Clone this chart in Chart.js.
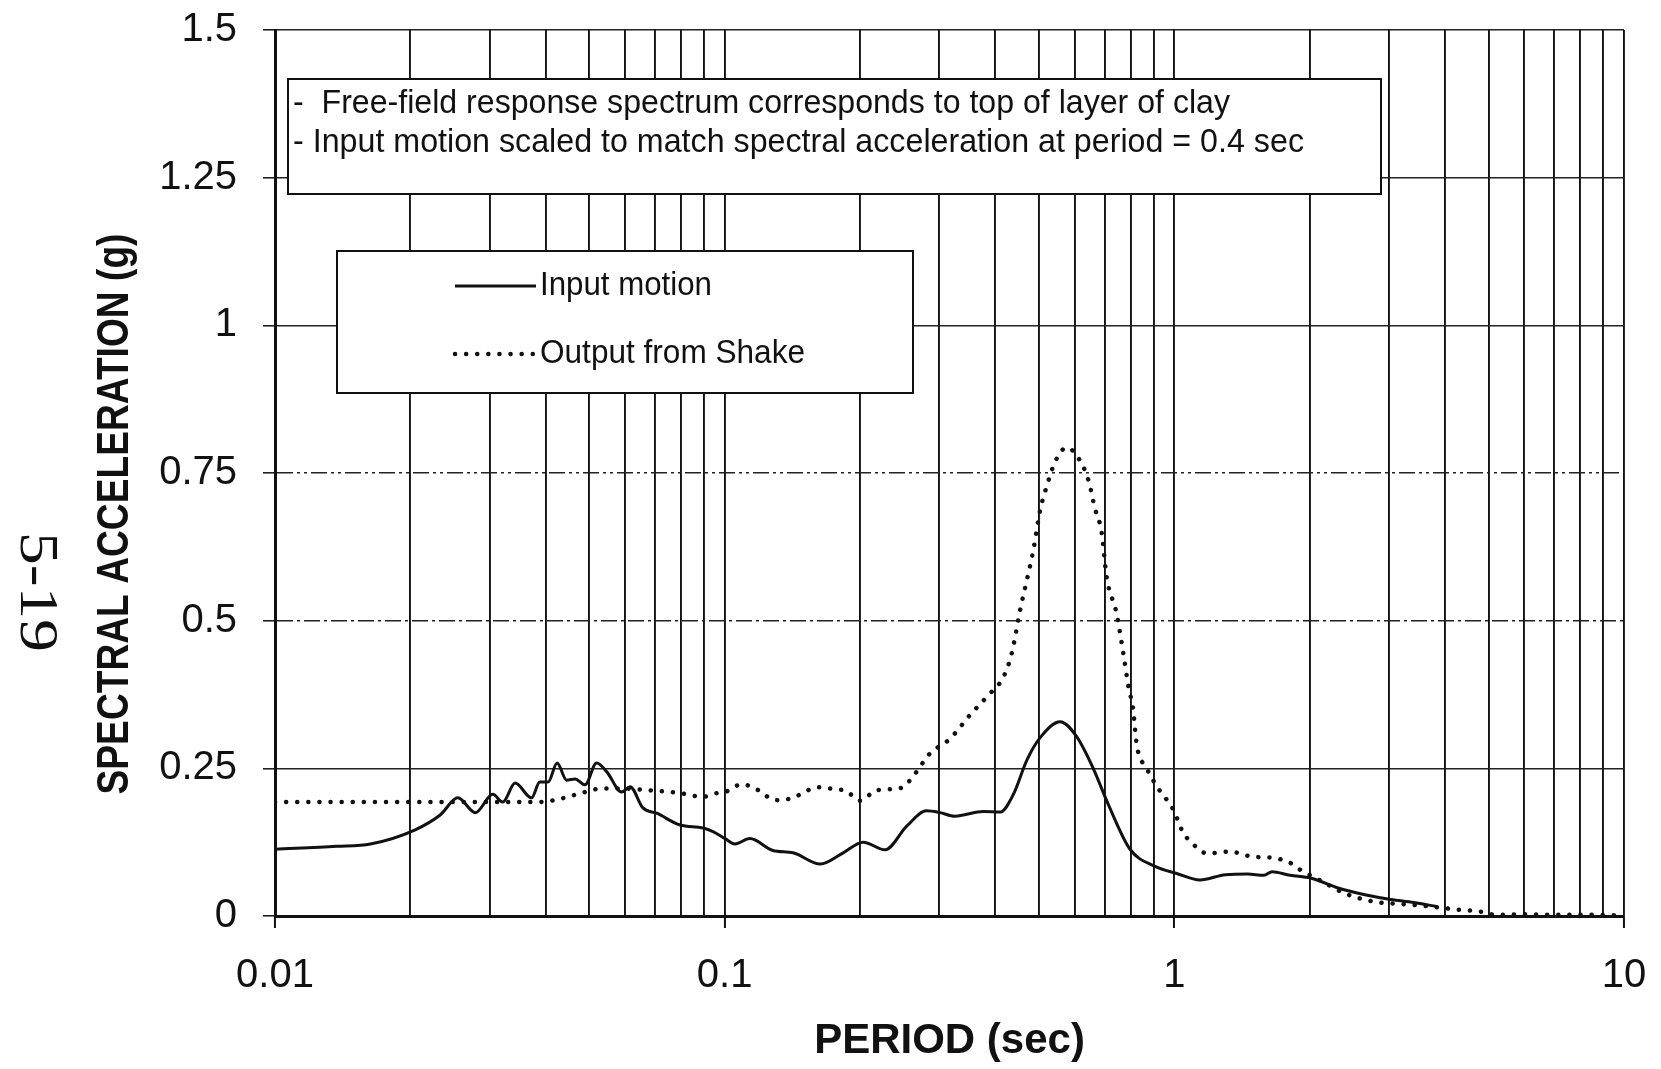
<!DOCTYPE html>
<html><head><meta charset="utf-8">
<script src="https://cdn.jsdelivr.net/npm/chart.js@4.4.1/dist/chart.umd.min.js"></script>
<style>html,body{margin:0;padding:0;background:#fff;overflow:hidden}#wrap{width:1661px;height:1069px;position:relative}</style>
</head><body><div id="wrap"><canvas id="c" width="1661" height="1069"></canvas></div>
<script>
// ---- data ----
const inputPeriod = [0.0100,0.0137,0.0163,0.0205,0.0233,0.0255,0.0279,0.0305,0.0321,0.0342,0.0372,0.0388,0.0405,0.0424,0.0445,0.0465,0.0489,0.0519,0.0547,0.0590,0.0616,0.0658,0.0706,0.0796,0.0895,0.0942,0.1002,0.1054,0.1138,0.128,0.142,0.163,0.1835,0.2033,0.2273,0.254,0.281,0.301,0.325,0.376,0.410,0.438,0.470,0.503,0.557,0.606,0.660,0.713,0.797,0.906,1.012,1.14,1.30,1.455,1.582,1.649,1.809,2.015,2.322,2.654,3.031,3.408,3.828];
const inputSA = [0.113,0.118,0.122,0.146,0.171,0.200,0.175,0.206,0.193,0.225,0.200,0.227,0.227,0.259,0.230,0.232,0.222,0.259,0.244,0.210,0.219,0.183,0.174,0.154,0.149,0.143,0.131,0.122,0.131,0.111,0.107,0.088,0.107,0.125,0.112,0.152,0.178,0.175,0.169,0.177,0.176,0.205,0.264,0.302,0.329,0.304,0.250,0.189,0.113,0.084,0.072,0.061,0.070,0.071,0.069,0.075,0.069,0.064,0.047,0.036,0.028,0.023,0.016];
const shakePeriod = [0.0100,0.0388,0.0434,0.0469,0.0537,0.0585,0.0671,0.0782,0.0896,0.0960,0.1010,0.1091,0.1188,0.1272,0.1339,0.1433,0.1615,0.1744,0.1868,0.2000,0.2178,0.2475,0.2627,0.286,0.317,0.351,0.386,0.417,0.435,0.454,0.470,0.486,0.503,0.520,0.543,0.576,0.606,0.644,0.666,0.689,0.707,0.744,0.770,0.790,0.810,0.824,0.868,0.921,0.995,1.043,1.096,1.182,1.328,1.505,1.636,1.809,1.917,2.102,2.40,2.79,3.24,3.83,4.23,4.84,5.17,6.01,7.10,8.39,9.75];
const shakeSA = [0.193,0.193,0.199,0.206,0.216,0.216,0.213,0.209,0.202,0.208,0.211,0.223,0.213,0.198,0.196,0.202,0.218,0.215,0.211,0.195,0.213,0.217,0.237,0.275,0.300,0.340,0.374,0.405,0.445,0.518,0.569,0.620,0.687,0.727,0.769,0.793,0.780,0.738,0.690,0.650,0.574,0.512,0.445,0.390,0.349,0.292,0.250,0.216,0.180,0.143,0.123,0.106,0.109,0.100,0.099,0.090,0.077,0.061,0.038,0.024,0.020,0.015,0.011,0.007,0.002,0.003,0.002,0.002,0.001];

const seriesNames = ['Input motion', 'Output from Shake'];
const xTickValues = [0.01, 0.1, 1, 10];
const xTickLabels = ['0.01', '0.1', '1', '10'];
const yTickValues = [0, 0.25, 0.5, 0.75, 1, 1.25, 1.5];
const yTickLabels = ['0', '0.25', '0.5', '0.75', '1', '1.25', '1.5'];
const noteLines = ['-  Free-field response spectrum corresponds to top of layer of clay',
                   '- Input motion scaled to match spectral acceleration at period = 0.4 sec'];
const xTitle = 'PERIOD (sec)';
const yTitle = 'SPECTRAL ACCELERATION (g)';
const pageMark = '5-19';

// ---- grid positions for the log axis (1..9 x each decade) ----
const xGridValues = [];
for (let e = -2; e <= 0; e++) for (let m = 1; m <= 9; m++) xGridValues.push(+(m * Math.pow(10, e)).toFixed(4));
xGridValues.push(10);
const isDecade = v => Math.abs(Math.log10(v) - Math.round(Math.log10(v))) < 1e-6;

const INK = '#111';
const FONT = "'Liberation Sans', Arial, Helvetica, sans-serif";

function drawFit(ctx, text, x, y, targetW, rot) {
  ctx.save();
  ctx.translate(x, y);
  if (rot) ctx.rotate(rot);
  const w = ctx.measureText(text).width;
  ctx.scale(targetW / w, 1);
  ctx.fillText(text, 0, 0);
  ctx.restore();
}

const overlay = {
  id: 'overlay',
  afterDatasetsDraw(chart) {
    const ctx = chart.ctx;
    const ds = chart.data.datasets;
    ctx.save();
    // note box
    ctx.fillStyle = '#fff'; ctx.strokeStyle = INK; ctx.lineWidth = 2;
    ctx.fillRect(288, 79, 1093, 115); ctx.strokeRect(288, 79, 1093, 115);
    ctx.fillStyle = INK; ctx.textAlign = 'left'; ctx.textBaseline = 'middle';
    ctx.font = "34px " + FONT;
    drawFit(ctx, noteLines[0], 293, 104, 937);
    drawFit(ctx, noteLines[1], 293, 143, 1011);
    // legend box
    ctx.fillStyle = '#fff';
    ctx.fillRect(337, 251, 576, 142); ctx.strokeRect(337, 251, 576, 142);
    const rows = [286, 354];
    for (let i = 0; i < 2; i++) {
      ctx.save();
      ctx.strokeStyle = ds[i].borderColor; ctx.lineWidth = ds[i].borderWidth;
      ctx.setLineDash(ds[i].borderDash || []);
      ctx.lineCap = ds[i].borderCapStyle || 'butt';
      ctx.beginPath(); ctx.moveTo(455, rows[i]); ctx.lineTo(536, rows[i]); ctx.stroke();
      ctx.restore();
      ctx.fillStyle = INK; ctx.font = "34px " + FONT; ctx.textBaseline = 'middle';
      drawFit(ctx, seriesNames[i], 540, rows[i], i === 0 ? 172 : 265);
    }
    ctx.restore();
  },
  afterDraw(chart) {
    const ctx = chart.ctx;
    ctx.save();
    ctx.fillStyle = INK; ctx.textAlign = 'center'; ctx.textBaseline = 'middle';
    ctx.font = "bold 44px " + FONT;
    drawFit(ctx, yTitle, 116, 514, 561, -Math.PI / 2);
    ctx.font = "54px 'Liberation Serif', 'Times New Roman', serif";
    drawFit(ctx, pageMark, 35, 592, 120, Math.PI / 2);
    ctx.restore();
  }
};

const dashFor = v => {
  if (Math.abs(v - 0.5) < 1e-6) return [16, 4, 3, 4];
  if (Math.abs(v - 0.75) < 1e-6) return [16, 4, 3, 4, 3, 4];
  return [];
};

new Chart(document.getElementById('c'), {
  type: 'line',
  data: {
    datasets: [
      { label: seriesNames[0], data: inputPeriod.map((t, i) => ({x: t, y: inputSA[i]})),
        borderColor: INK, borderWidth: 3, pointRadius: 0, fill: false, cubicInterpolationMode: 'monotone' },
      { label: seriesNames[1], data: shakePeriod.map((t, i) => ({x: t, y: shakeSA[i]})),
        borderColor: INK, borderWidth: 4.5, borderDash: [0.1, 11], borderCapStyle: 'round',
        pointRadius: 0, fill: false, cubicInterpolationMode: 'monotone' }
    ]
  },
  options: {
    responsive: false, animation: false, devicePixelRatio: 1,
    layout: { padding: { top: 30, right: 37, left: 0, bottom: 0 } },
    plugins: { legend: { display: false }, tooltip: { enabled: false } },
    scales: {
      x: {
        type: 'logarithmic', min: 0.01, max: 10,
        afterBuildTicks: s => { s.ticks = xGridValues.map(v => ({value: v, major: isDecade(v)})); },
        afterFit: s => { s.height = 153; s.paddingLeft = 0; s.paddingRight = 0; },
        ticks: {
          autoSkip: false, maxRotation: 0, padding: 24, color: INK,
          font: { family: FONT, size: 40 },
          callback: v => { const k = xTickValues.findIndex(t => Math.abs(t - v) < 1e-9); return k >= 0 ? xTickLabels[k] : ''; }
        },
        grid: {
          color: INK, lineWidth: 1.9, tickLength: 12, tickWidth: 2,
          tickColor: c => (c.tick && isDecade(c.tick.value)) ? INK : 'rgba(0,0,0,0)'
        },
        border: { color: INK, width: 3 },
        title: { display: true, text: xTitle, color: INK, font: { family: FONT, size: 42, weight: 'bold' }, padding: { top: 0, bottom: 2 } }
      },
      y: {
        type: 'linear', min: 0, max: 1.5,
        afterBuildTicks: s => { s.ticks = yTickValues.map(v => ({value: v})); },
        afterFit: s => { s.width = 275; s.paddingTop = 0; s.paddingBottom = 0; },
        ticks: {
          padding: 26, color: INK, font: { family: FONT, size: 40 },
          callback: v => { const k = yTickValues.findIndex(t => Math.abs(t - v) < 1e-9); return k >= 0 ? yTickLabels[k] : ''; }
        },
        grid: { color: '#222', lineWidth: 1.6, tickLength: 12, tickColor: INK, tickWidth: 1.5 },
        border: { color: INK, width: 3, dash: c => (c.tick ? dashFor(c.tick.value) : []) }
      }
    }
  },
  plugins: [overlay]
});
</script></body></html>
